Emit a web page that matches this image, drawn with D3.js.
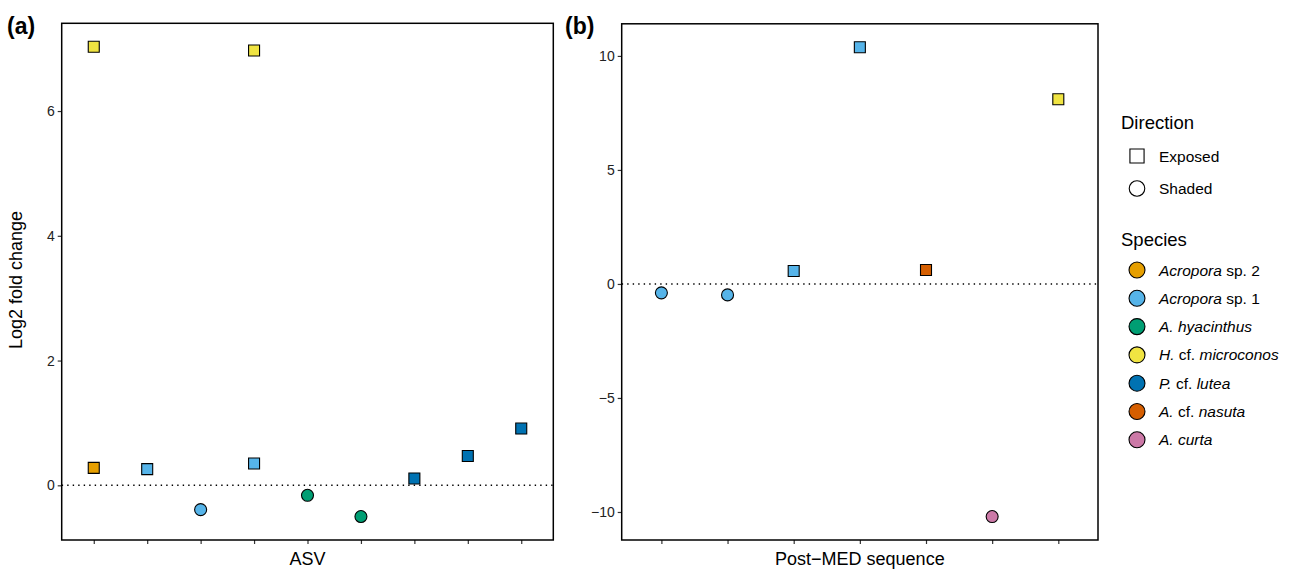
<!DOCTYPE html>
<html>
<head>
<meta charset="utf-8">
<script src="https://cdn.jsdelivr.net/npm/d3@7"></script>
<style>
  body { margin: 0; background: #fff; }
  svg { display: block; font-family: "Liberation Sans", Arial, Helvetica, sans-serif; }
</style>
</head>
<body>
<svg id="chart" width="1315" height="570"></svg>
<script>
// ---------- DATA ----------
const speciesNames = ["Acropora sp. 2", "Acropora sp. 1", "A. hyacinthus", "H. cf. microconos", "P. cf. lutea", "A. cf. nasuta", "A. curta"];
const speciesColors = ["#E69F00", "#56B4E9", "#009E73", "#F0E442", "#0072B2", "#D55E00", "#CC79A7"];
// label parts: [text, italic]
const speciesLabelParts = [
  [["Acropora", true], [" sp. 2", false]],
  [["Acropora", true], [" sp. 1", false]],
  [["A. hyacinthus", true]],
  [["H.", true], [" cf. ", false], ["microconos", true]],
  [["P.", true], [" cf. ", false], ["lutea", true]],
  [["A.", true], [" cf. ", false], ["nasuta", true]],
  [["A. curta", true]]
];
const directions = ["Exposed", "Shaded"];

// Panel (a): ASV
const asvCategories = ["ASV1", "ASV2", "ASV3", "ASV4", "ASV5", "ASV6", "ASV7", "ASV8", "ASV9"];
const asvCategory  = ["ASV1", "ASV1", "ASV2", "ASV3", "ASV4", "ASV4", "ASV5", "ASV6", "ASV7", "ASV8", "ASV9"];
const asvValue     = [7.03, 0.28, 0.26, -0.39, 6.97, 0.35, -0.16, -0.50, 0.11, 0.47, 0.91];
const asvSpecies   = ["H. cf. microconos", "Acropora sp. 2", "Acropora sp. 1", "Acropora sp. 1", "H. cf. microconos", "Acropora sp. 1", "A. hyacinthus", "A. hyacinthus", "P. cf. lutea", "P. cf. lutea", "P. cf. lutea"];
const asvDirection = ["Exposed", "Exposed", "Exposed", "Shaded", "Exposed", "Exposed", "Shaded", "Shaded", "Exposed", "Exposed", "Exposed"];
const asvTicks = [0, 2, 4, 6];

// Panel (b): Post-MED sequence
const medCategories = ["MED1", "MED2", "MED3", "MED4", "MED5", "MED6", "MED7"];
const medCategory  = ["MED1", "MED2", "MED3", "MED4", "MED5", "MED6", "MED7"];
const medValue     = [-0.39, -0.48, 0.57, 10.38, 0.61, -10.2, 8.1];
const medSpecies   = ["Acropora sp. 1", "Acropora sp. 1", "Acropora sp. 1", "Acropora sp. 1", "A. cf. nasuta", "A. curta", "H. cf. microconos"];
const medDirection = ["Shaded", "Shaded", "Exposed", "Exposed", "Exposed", "Shaded", "Exposed"];
const medTicks = [-10, -5, 0, 5, 10];

// ---------- DRAW ----------
const svg = d3.select("#chart");
const color = d3.scaleOrdinal().domain(speciesNames).range(speciesColors);
const shape = d3.scaleOrdinal().domain(directions).range([d3.symbolSquare, d3.symbolCircle]);
const symSize = { Exposed: 121, Shaded: 113 };

function expandDomain(vals) {
  const [lo, hi] = d3.extent(vals);
  const pad = (hi - lo) * 0.05;
  return [lo - pad, hi + pad];
}

function panel(opts) {
  const { left, right, top, bottom, cats, ptCat, ptVal, ptSp, ptDir, ticks, xTitle, tag, tagX } = opts;
  const x = d3.scalePoint().domain(cats).range([left, right]).padding(0.6);
  const y = d3.scaleLinear().domain(expandDomain(ptVal)).range([bottom, top]);
  const g = svg.append("g");

  // zero line
  g.append("line")
    .attr("x1", left).attr("x2", right)
    .attr("y1", y(0)).attr("y2", y(0))
    .attr("stroke", "#000").attr("stroke-width", 1.4)
    .attr("stroke-dasharray", "1.4,4.1");

  // axes
  const yAxis = d3.axisLeft(y).tickValues(ticks).tickSize(4).tickPadding(3).tickFormat(d => d < 0 ? "\u2212" + Math.abs(d) : d);
  const gy = g.append("g").attr("transform", `translate(${left},0)`).call(yAxis);
  const xAxis = d3.axisBottom(x).tickSize(4).tickFormat("");
  const gx = g.append("g").attr("transform", `translate(0,${bottom})`).call(xAxis);
  [gy, gx].forEach(a => {
    a.select(".domain").remove();
    a.selectAll(".tick line").attr("stroke", "#333").attr("stroke-width", 1.2);
    a.selectAll(".tick text").attr("fill", "#222").style("font-size", "14px")
      .style("font-family", '"Liberation Sans", Arial, sans-serif');
  });

  // points
  const idx = d3.range(ptVal.length);
  g.selectAll("path.pt").data(idx).join("path")
    .attr("class", "pt")
    .attr("transform", i => `translate(${x(ptCat[i])},${y(ptVal[i])})`)
    .attr("d", i => d3.symbol().type(shape(ptDir[i])).size(symSize[ptDir[i]])())
    .attr("fill", i => color(ptSp[i]))
    .attr("stroke", "#000").attr("stroke-width", 1.1);

  // border
  g.append("rect").attr("x", left).attr("y", top)
    .attr("width", right - left).attr("height", bottom - top)
    .attr("fill", "none").attr("stroke", "#000").attr("stroke-width", 1.5);

  // x title
  g.append("text").attr("x", (left + right) / 2).attr("y", 565)
    .attr("text-anchor", "middle").style("font-size", "18px").attr("fill", "#000").text(xTitle);

  // tag
  svg.append("text").attr("x", tagX).attr("y", 34)
    .style("font-size", "23px").style("font-weight", "bold").text(tag);
}

panel({ left: 61.7, right: 553.3, top: 23.3, bottom: 540, cats: asvCategories,
  ptCat: asvCategory, ptVal: asvValue, ptSp: asvSpecies, ptDir: asvDirection,
  ticks: asvTicks, xTitle: "ASV", tag: "(a)", tagX: 7 });
panel({ left: 621.7, right: 1098, top: 23.8, bottom: 540, cats: medCategories,
  ptCat: medCategory, ptVal: medValue, ptSp: medSpecies, ptDir: medDirection,
  ticks: medTicks, xTitle: "Post\u2212MED sequence", tag: "(b)", tagX: 565 });

// y title
svg.append("text")
  .attr("transform", "translate(22,280) rotate(-90)")
  .attr("text-anchor", "middle").style("font-size", "18px").text("Log2 fold change");

// ---------- LEGEND ----------
const lg = svg.append("g");
const lx = 1121, symX = 1137, txtX = 1159;
lg.append("text").attr("x", lx).attr("y", 129).style("font-size", "18.5px").text("Direction");
directions.forEach((d, i) => {
  const yy = 156 + i * 32.5;
  lg.append("path").attr("transform", `translate(${symX},${yy})`)
    .attr("d", d3.symbol().type(shape(d)).size(d === "Exposed" ? 200 : 190)())
    .attr("fill", "none").attr("stroke", "#000").attr("stroke-width", 1.1);
  lg.append("text").attr("x", txtX).attr("y", yy + 5.5).style("font-size", "15.5px").text(d);
});
lg.append("text").attr("x", lx).attr("y", 246).style("font-size", "18.5px").text("Species");
speciesNames.forEach((s, i) => {
  const yy = 270 + i * 28.3;
  lg.append("path").attr("transform", `translate(${symX},${yy})`)
    .attr("d", d3.symbol().type(d3.symbolCircle).size(200)())
    .attr("fill", color(s)).attr("stroke", "#000").attr("stroke-width", 1.1);
  const t = lg.append("text").attr("x", txtX).attr("y", yy + 5.5).style("font-size", "15.5px").attr("xml:space", "preserve");
  speciesLabelParts[i].forEach(([txt, it]) => {
    t.append("tspan").style("font-style", it ? "italic" : "normal").text(txt);
  });
});
</script>
</body>
</html>
